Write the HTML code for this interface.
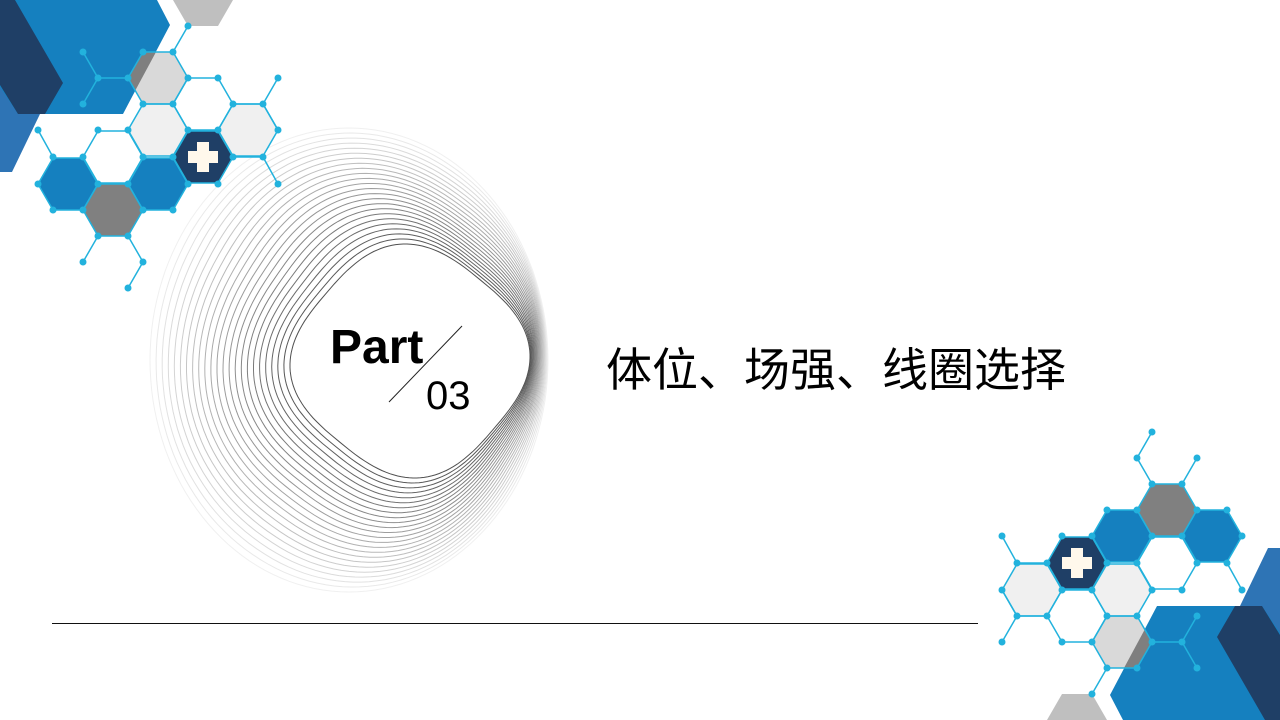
<!DOCTYPE html>
<html><head><meta charset="utf-8"><style>
html,body{margin:0;padding:0;background:#fff;}
#s{position:relative;width:1280px;height:720px;overflow:hidden;background:#fff;}
svg{position:absolute;left:0;top:0;}
.t{position:absolute;white-space:nowrap;color:#000;}
</style></head><body><div id="s">
<svg width="1280" height="720" viewBox="0 0 1280 720">
<defs>
<polygon id="h" points="-30,0 -15,-26 15,-26 30,0 15,26 -15,26"/>
<g id="grp">
  <polygon points="0,0 157,0 170,25 123,114 0,114" fill="#1580bf"/>
  <polygon points="0,87 18,114 40,114 12,172 0,172" fill="#2e74b5"/>
  <polygon points="0,0 15,0 63,83 45,114 18,114 0,85" fill="#1f3f66"/>
  <use href="#h" x="203" y="0" fill="#bfbfbf"/>
  <use href="#h" x="158" y="78" fill="#d9d9d9"/>
  <polygon points="143,52 156,52 135,91 128,78" fill="#7f7f7f"/>
  <use href="#h" x="158" y="130" fill="#f0f0f0"/>
  <use href="#h" x="248" y="130" fill="#f0f0f0"/>
  <use href="#h" x="68" y="184" fill="#1580bf"/>
  <use href="#h" x="158" y="184" fill="#1580bf"/>
  <use href="#h" x="113" y="210" fill="#808080"/>
  <use href="#h" x="203" y="157" fill="#1f3f66"/>
  <g fill="none" stroke="#22b2dd" stroke-width="1.5">
    <use href="#h" x="158" y="78"/><use href="#h" x="158" y="130"/><use href="#h" x="248" y="130"/>
    <use href="#h" x="203" y="104"/><use href="#h" x="113" y="157"/><use href="#h" x="68" y="184"/>
    <use href="#h" x="158" y="184"/><use href="#h" x="113" y="210"/><use href="#h" x="203" y="157"/>
    <path d="M83,52L98,78L128,78M98,78L83,104M173,52L188,26M233,104L263,104L278,78M263,104L278,130M233,157L263,157L278,184M53,157L38,130M98,236L83,262M128,236L143,262L128,288"/>
  </g>
  <g fill="#22b2dd">
    <circle cx="83" cy="52" r="3.5"/><circle cx="98" cy="78" r="3.5"/><circle cx="128" cy="78" r="3.5"/><circle cx="83" cy="104" r="3.5"/>
    <circle cx="188" cy="26" r="3.5"/><circle cx="173" cy="52" r="3.5"/><circle cx="143" cy="52" r="3.5"/><circle cx="188" cy="78" r="3.5"/><circle cx="218" cy="78" r="3.5"/>
    <circle cx="233" cy="104" r="3.5"/><circle cx="263" cy="104" r="3.5"/><circle cx="278" cy="78" r="3.5"/><circle cx="278" cy="130" r="3.5"/>
    <circle cx="143" cy="104" r="3.5"/><circle cx="173" cy="104" r="3.5"/><circle cx="38" cy="130" r="3.5"/><circle cx="98" cy="130" r="3.5"/>
    <circle cx="128" cy="130" r="3.5"/><circle cx="188" cy="130" r="3.5"/><circle cx="218" cy="130" r="3.5"/><circle cx="53" cy="157" r="3.5"/>
    <circle cx="83" cy="157" r="3.5"/><circle cx="143" cy="157" r="3.5"/><circle cx="173" cy="157" r="3.5"/><circle cx="233" cy="157" r="3.5"/>
    <circle cx="263" cy="157" r="3.5"/><circle cx="278" cy="184" r="3.5"/><circle cx="38" cy="184" r="3.5"/><circle cx="98" cy="184" r="3.5"/>
    <circle cx="128" cy="184" r="3.5"/><circle cx="188" cy="184" r="3.5"/><circle cx="218" cy="184" r="3.5"/><circle cx="53" cy="210" r="3.5"/>
    <circle cx="83" cy="210" r="3.5"/><circle cx="143" cy="210" r="3.5"/><circle cx="173" cy="210" r="3.5"/><circle cx="98" cy="236" r="3.5"/>
    <circle cx="128" cy="236" r="3.5"/><circle cx="83" cy="262" r="3.5"/><circle cx="143" cy="262" r="3.5"/><circle cx="128" cy="288" r="3.5"/>
  </g>
  <path d="M197,142h12v9h9v12h-9v9h-12v-9h-9v-12h9z" fill="#fff8ec"/>
</g>
</defs>
<g id="rings"></g>
<use href="#grp"/>
<use href="#grp" transform="rotate(180 640 360)"/>
<line x1="52" y1="623.5" x2="978" y2="623.5" stroke="#111" stroke-width="1"/>
<line x1="462" y1="326" x2="389" y2="402" stroke="#222" stroke-width="1"/>
</svg>
<div class="t" style="left:330px;top:320px;font:bold 48px 'Liberation Sans',sans-serif;">Part</div>
<div class="t" style="left:426px;top:374px;font:40px 'Liberation Sans',sans-serif;">03</div>
<div class="t" style="left:606px;top:334px;font:46px 'Liberation Sans','Noto Sans CJK SC',sans-serif;">体位、场强、线圈选择</div>
</div>
<script>
(function(){
var g=document.getElementById('rings'),N=24,out='';
for(var i=0;i<N;i++){
 var t=i/(N-1);
 var cx=410+(349-410)*t, cy=361+(360-361)*t;
 var a=120+(199-120)*t, b=117+(232-117)*t;
 var n=2.8+(2-2.8)*t, rot=(40-10*t)*Math.PI/180;
 var pts=[];
 for(var k=0;k<=144;k++){
  var th=k/144*2*Math.PI,c=Math.cos(th),s=Math.sin(th);
  var u=Math.sign(c)*Math.pow(Math.abs(c),2/n), v=Math.sign(s)*Math.pow(Math.abs(s),2/n);
  var x=u*Math.cos(rot)-v*Math.sin(rot), y=u*Math.sin(rot)+v*Math.cos(rot);
  pts.push([x,y]);
 }
 var mx=0,my=0;pts.forEach(function(p){mx=Math.max(mx,Math.abs(p[0]));my=Math.max(my,Math.abs(p[1]));});
 var d='';
 pts.forEach(function(p,j){var X=cx+p[0]/mx*a, Y=cy+p[1]/my*b;
  d+=(j?'L':'M')+X.toFixed(1)+','+Y.toFixed(1);});
 var gray=Math.round(80+160*t);
 out+='<path d="'+d+'Z" fill="none" stroke="rgb('+gray+','+gray+','+gray+')" stroke-width="1"/>';
}
g.innerHTML=out;
})();
</script>
</body></html>
